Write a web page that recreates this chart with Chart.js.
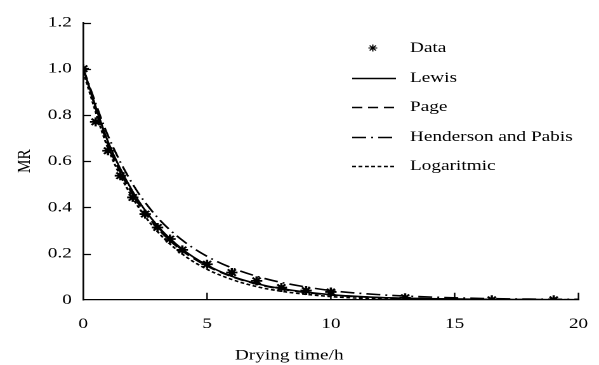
<!DOCTYPE html>
<html><head><meta charset="utf-8">
<script src="https://cdn.jsdelivr.net/npm/chart.js@4"></script>
<style>
html,body{margin:0;padding:0;background:#fff;overflow:hidden}
#wrap{width:599px;height:365px;position:relative;overflow:hidden}
#inner{position:absolute;left:0;top:0;width:472px;height:365px;transform-origin:0 0;transform:scaleX(1.2691)}
</style>
</head><body><div id="wrap"><div id="inner"><canvas id="c" width="472" height="365"></canvas></div></div>
<script>
// ---- data ----
const dataTime = [0, 0.5, 1, 1.5, 2, 2.5, 3, 3.5, 4, 5, 6, 7, 8, 9, 10, 13, 16.5, 19];
const dataMR   = [1.0, 0.77, 0.645, 0.537, 0.443, 0.371, 0.313, 0.263, 0.216, 0.154, 0.118, 0.082, 0.053, 0.040, 0.034, 0.009, 0.0, 0.0];

const modelTime     = [0, 1, 2, 3, 4, 5, 6, 7, 8, 10, 12, 14, 16, 18, 20];
const lewisMR       = [1.0, 0.684, 0.468, 0.320, 0.219, 0.150, 0.102, 0.070, 0.048, 0.022, 0.010, 0.005, 0.002, 0.001, 0.0005];
const pageMR        = [1.0, 0.670, 0.455, 0.310, 0.212, 0.146, 0.100, 0.068, 0.046, 0.021, 0.009, 0.004, 0.002, 0.001, 0.0];
const hendersonMR   = [1.0, 0.710, 0.500, 0.356, 0.258, 0.188, 0.138, 0.102, 0.075, 0.040, 0.022, 0.012, 0.006, 0.003, 0.002];
const logaritmicMR  = [0.985, 0.655, 0.440, 0.295, 0.198, 0.132, 0.088, 0.057, 0.037, 0.014, 0.004, 0.001, 0.0, 0.0, 0.0];

const xTicks = [0, 5, 10, 15, 20];
const yTicks = [0, 0.2, 0.4, 0.6, 0.8, 1.0, 1.2];
const seriesNames = ['Data', 'Lewis', 'Page', 'Henderson and Pabis', 'Logaritmic'];
const xTitle = 'Drying time/h';
const yTitle = 'MR';

const FONT = 'Liberation Serif';
const FS = 15.2;
const pts = (xs, ys) => xs.map((x, i) => ({x: x, y: ys[i]}));

const lineDs = (label, ys, dash) => ({
  type: 'line', label: label, data: pts(modelTime, ys),
  borderColor: '#000', borderWidth: 1.6, borderDash: dash,
  pointRadius: 0, fill: false, cubicInterpolationMode: 'monotone'
});

const datasets = [
  lineDs(seriesNames[1], lewisMR, []),
  lineDs(seriesNames[2], pageMR, [8, 4.5]),
  lineDs(seriesNames[3], hendersonMR, [11, 4, 1.5, 4]),
  lineDs(seriesNames[4], logaritmicMR, [3, 2]),
  {
    type: 'scatter', label: seriesNames[0], data: pts(dataTime, dataMR),
    pointStyle: 'star', pointRadius: 4.5, borderColor: '#000', backgroundColor: '#000',
    pointBorderWidth: 1.8, showLine: false
  }
];

// inward tick marks
const innerTicks = {
  id: 'innerTicks',
  afterDraw(chart) {
    const ctx = chart.ctx, xs = chart.scales.x, ys = chart.scales.y;
    ctx.save();
    ctx.strokeStyle = '#000'; ctx.lineWidth = 1.2;
    ctx.beginPath();
    xTicks.forEach(v => { if (v === xs.min) return; const px = xs.getPixelForValue(v); ctx.moveTo(px, ys.bottom); ctx.lineTo(px, ys.bottom - 7); });
    yTicks.forEach(v => { if (v === ys.min) return; const py = Math.round(ys.getPixelForValue(v)) + 0.5; ctx.moveTo(xs.left, py); ctx.lineTo(xs.left + 6, py); });
    ctx.stroke();
    ctx.restore();
  }
};

// legend drawn inside the plot area
const innerLegend = {
  id: 'innerLegend',
  afterDraw(chart) {
    const ctx = chart.ctx;
    const rows = [48, 78, 107, 137, 166];
    const x0 = 277.5, x1 = 312, tx = 323;
    ctx.save();
    ctx.font = FS + 'px "' + FONT + '"';
    ctx.fillStyle = '#000'; ctx.strokeStyle = '#000';
    ctx.textBaseline = 'middle'; ctx.textAlign = 'left';
    const order = [4, 0, 1, 2, 3];
    order.forEach((di, r) => {
      const ds = chart.data.datasets[di];
      const y = rows[r];
      if (ds.type === 'scatter') {
        Chart.helpers.drawPoint(ctx, {pointStyle: 'star', radius: 3.5, borderWidth: 1.4}, (x0 + x1) / 2 - 1, y);
      } else {
        ctx.save();
        ctx.lineWidth = 1.6; ctx.setLineDash(ds.borderDash || []);
        ctx.beginPath(); ctx.moveTo(x0, y + 0.5); ctx.lineTo(x1, y + 0.5); ctx.stroke();
        ctx.restore();
      }
      ctx.fillText(ds.label, tx, y);
    });
    ctx.restore();
  }
};

const noPad = s => { s.paddingLeft = 0; s.paddingRight = 0; s.paddingTop = 0; s.paddingBottom = 0; };

new Chart(document.getElementById('c'), {
  data: { datasets: datasets },
  options: {
    responsive: false, animation: false, devicePixelRatio: 2,
    layout: { padding: { top: 22.5, right: 16.2, left: 0, bottom: 0 } },
    plugins: {
      legend: { display: false }, tooltip: { enabled: false },
      title: { display: true, position: 'bottom', text: xTitle, color: '#000',
        font: { family: FONT, size: FS, weight: 'normal', lineHeight: 1.0 }, padding: { top: 3, bottom: 2 } }
    },
    scales: {
      x: {
        type: 'linear', min: 0, max: 20,
        afterBuildTicks: s => { s.ticks = xTicks.map(v => ({value: v})); },
        afterFit: s => { s.height = 45; noPad(s); },
        ticks: { color: '#000', font: { family: FONT, size: FS }, padding: 15, maxRotation: 0 },
        grid: { display: true, drawOnChartArea: false, drawTicks: false },
        border: { display: true, color: '#000', width: 1.3 }
      },
      y: {
        type: 'linear', min: 0, max: 1.2,
        afterBuildTicks: s => { s.ticks = yTicks.map(v => ({value: v})); },
        afterFit: s => { s.width = 65.6; noPad(s); },
        ticks: { color: '#000', font: { family: FONT, size: FS }, padding: 9,
          callback: v => v === 0 ? '0' : v.toFixed(1) },
        grid: { display: true, drawOnChartArea: false, drawTicks: false },
        border: { display: true, color: '#000', width: 1.3 },
        title: { display: true, text: yTitle, color: '#000', font: { family: FONT, size: FS }, padding: { top: 10.5, bottom: 0 } }
      }
    }
  },
  plugins: [innerTicks, innerLegend]
});
</script></body></html>
